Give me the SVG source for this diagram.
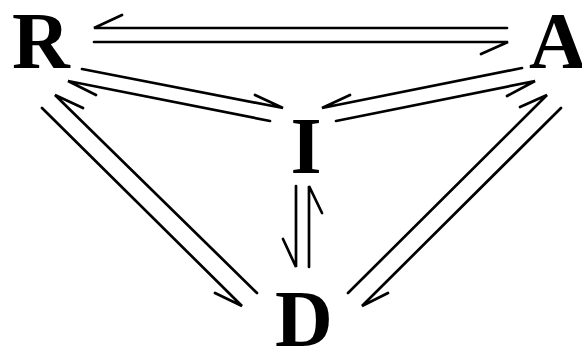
<svg xmlns="http://www.w3.org/2000/svg" width="582" height="347" viewBox="0 0 582 347">
<style>
.lbl{font-family:"Liberation Serif","Times New Roman",serif;font-weight:bold;font-size:80px;fill:#000;text-anchor:middle}
.h{fill:none;stroke:#000;stroke-width:2.7;stroke-linecap:round;stroke-linejoin:miter}
</style>
<rect width="582" height="347" fill="#fff"/>
<g id="connectors">
<path class="h" d="M507,28 L94,28 L122,15"/>
<path class="h" d="M94,42 L508,42 L481,54"/>
<path class="h" d="M82,69 L283,108 L255,95"/>
<path class="h" d="M270,121 L68,81 L96,95"/>
<path class="h" d="M522,68 L322,108 L350,95"/>
<path class="h" d="M336,121 L535,81 L507,96"/>
<path class="h" d="M42,108 L242,306 L215,293"/>
<path class="h" d="M257,293 L55,95 L83,108"/>
<path class="h" d="M348,293 L547,95 L520,107"/>
<path class="h" d="M561,108 L362,306 L388,293"/>
<path class="h" d="M296,186 L296,267 L283,239"/>
<path class="h" d="M309,267 L309,186 L322,213"/>
</g>
<g id="R"><text class="lbl" x="41" y="68">R</text></g>
<g id="A"><text class="lbl" x="558" y="68">A</text></g>
<g id="I"><text class="lbl" x="306" y="173">I</text></g>
<g id="D"><text class="lbl" x="304" y="346">D</text></g>
</svg>
